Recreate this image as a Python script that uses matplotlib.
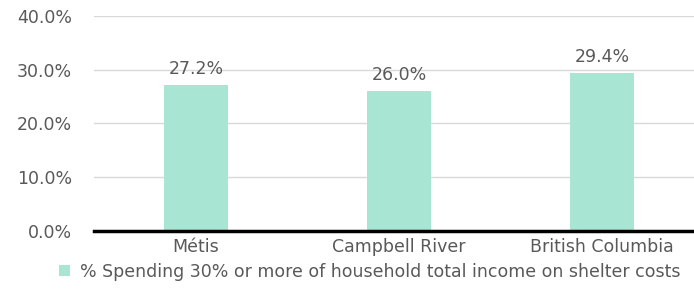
import numpy as np
import matplotlib
matplotlib.use('Agg')
import matplotlib.pyplot as plt
from matplotlib.patches import Patch

categories = ['Métis', 'Campbell River', 'British Columbia']
values = [27.2, 26.0, 29.4]
series_name = '% Spending 30% or more of household total income on shelter costs'
yticks = [0, 10, 20, 30, 40]

bar_color = '#A8E6D3'
text_color = '#595959'
fs = 12.5

plt.rcParams['font.family'] = ['DejaVu Sans']

fig = plt.figure(figsize=(6.94, 2.93), dpi=100)
ax = fig.add_axes([0.136, 0.2116, 0.8775, 0.7338])

x = np.arange(len(categories))
ax.bar(x, values, width=0.315, color=bar_color, zorder=2)

for xi, v in zip(x, values):
    ax.annotate(f'{v:.1f}%', (xi, v), xytext=(0, 5), textcoords='offset points',
                ha='center', va='bottom', fontsize=fs, color=text_color)

ax.set_xlim(-0.5, len(categories) - 0.5)
ax.set_ylim(0, 40)
ax.set_yticks(yticks)
ax.set_yticklabels([f'{t:.1f}%' for t in yticks])
ax.set_xticks(x)
ax.set_xticklabels(categories)
ax.tick_params(axis='both', length=0, colors=text_color, labelsize=fs)
ax.tick_params(axis='y', pad=16)
ax.tick_params(axis='x', pad=5)

ax.grid(axis='y', color='#D9D9D9', linewidth=1, zorder=0)
for s in ['top', 'right', 'left']:
    ax.spines[s].set_visible(False)
ax.spines['bottom'].set_color('black')
ax.spines['bottom'].set_linewidth(2.5)
ax.spines['bottom'].set_zorder(3)

handle = Patch(facecolor=bar_color, edgecolor='none')
fig.legend([handle], [series_name], loc='center', bbox_to_anchor=(0.533, 0.072),
           frameon=False, fontsize=fs, labelcolor=text_color,
           handlelength=0.6, handleheight=0.6, handletextpad=0.6)

fig.savefig('out.png', dpi=100)
